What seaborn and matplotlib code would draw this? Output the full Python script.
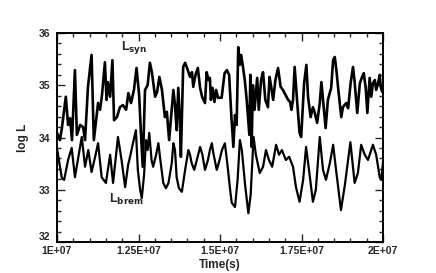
import matplotlib
matplotlib.use("Agg")
import matplotlib.pyplot as plt
from matplotlib.ticker import MultipleLocator, FixedLocator
import numpy as np
import pandas as pd
import seaborn as sns

# Time in units of 1e7 s
syn_t = [1.000, 1.009, 1.015, 1.027, 1.034, 1.040, 1.046, 1.055, 1.061, 1.071,
         1.080, 1.086, 1.095, 1.106, 1.113, 1.120, 1.126, 1.132, 1.138, 1.147,
         1.152, 1.156, 1.163, 1.170, 1.175, 1.184, 1.193, 1.202, 1.212, 1.219,
         1.227, 1.236, 1.244, 1.252, 1.257, 1.263, 1.270, 1.278, 1.285, 1.291,
         1.301, 1.307, 1.314, 1.322, 1.331, 1.337, 1.344, 1.352, 1.357, 1.362,
         1.367, 1.372, 1.377, 1.380, 1.387, 1.393, 1.399, 1.408, 1.414, 1.418,
         1.425, 1.432, 1.439, 1.445, 1.454, 1.459, 1.465, 1.469, 1.472, 1.477,
         1.483, 1.488, 1.494, 1.505, 1.514, 1.521, 1.528, 1.535, 1.541, 1.546,
         1.551, 1.556, 1.561, 1.565, 1.571, 1.576, 1.581, 1.586, 1.590, 1.593,
         1.597, 1.601, 1.606, 1.614, 1.619, 1.626, 1.632, 1.639, 1.647, 1.652,
         1.657, 1.663, 1.670, 1.678, 1.686, 1.693, 1.698, 1.709, 1.715, 1.719,
         1.724, 1.729, 1.737, 1.744, 1.749, 1.758, 1.765, 1.770, 1.778, 1.785,
         1.790, 1.798, 1.806, 1.811, 1.819, 1.824, 1.831, 1.841, 1.847, 1.852,
         1.857, 1.863, 1.872, 1.877, 1.887, 1.893, 1.901, 1.908, 1.913, 1.921,
         1.929, 1.936, 1.941, 1.947, 1.952, 1.959, 1.964, 1.969, 1.975, 1.979,
         1.985, 1.990, 1.993, 1.998]
syn_logL = [34.09, 33.95, 34.18, 34.78, 34.24, 34.37, 33.95, 35.29, 34.05, 34.24,
            34.20, 33.95, 34.97, 35.58, 33.95, 34.33, 34.66, 34.53, 34.81, 35.44,
            34.72, 35.06, 34.78, 35.48, 34.33, 34.39, 34.58, 34.62, 34.53, 34.85,
            34.66, 34.91, 35.33, 34.81, 34.14, 33.44, 34.91, 35.00, 35.43, 35.25,
            34.78, 34.87, 35.16, 34.91, 34.39, 34.49, 33.95, 34.53, 34.91, 34.62,
            34.14, 34.95, 34.33, 33.63, 35.35, 35.43, 35.33, 35.16, 35.25, 34.97,
            35.20, 35.33, 34.95, 34.78, 34.66, 35.25, 35.10, 35.14, 34.72, 34.95,
            34.68, 34.91, 34.76, 34.76, 35.23, 35.29, 35.20, 34.39, 33.82, 34.43,
            34.24, 35.73, 35.39, 35.58, 35.33, 35.10, 34.78, 34.39, 34.05, 35.20,
            33.82, 35.00, 34.53, 35.14, 34.53, 35.10, 35.25, 34.72, 34.58, 35.16,
            34.97, 34.72, 35.10, 35.33, 34.97, 34.91, 34.85, 34.72, 34.68, 34.53,
            34.72, 35.35, 34.66, 34.09, 34.01, 35.04, 35.39, 34.78, 34.39, 34.58,
            34.49, 34.28, 34.66, 35.06, 34.53, 34.18, 34.72, 34.95, 35.48, 35.54,
            35.29, 34.91, 34.39, 34.58, 34.66, 34.56, 35.06, 35.35, 35.06, 34.47,
            35.04, 35.16, 35.23, 34.95, 34.47, 35.14, 34.78, 35.04, 35.10, 34.91,
            35.04, 35.20, 34.97, 34.87]

brem_t = [1.001, 1.009, 1.015, 1.022, 1.028, 1.034, 1.045, 1.051, 1.055, 1.064,
          1.076, 1.086, 1.096, 1.106, 1.117, 1.126, 1.137, 1.150, 1.163, 1.172,
          1.187, 1.198, 1.209, 1.218, 1.224, 1.233, 1.242, 1.248, 1.255, 1.260,
          1.267, 1.273, 1.278, 1.283, 1.290, 1.295, 1.304, 1.311, 1.317, 1.326,
          1.334, 1.342, 1.352, 1.357, 1.362, 1.367, 1.374, 1.383, 1.393, 1.403,
          1.408, 1.413, 1.421, 1.429, 1.439, 1.446, 1.454, 1.463, 1.469, 1.475,
          1.479, 1.490, 1.497, 1.506, 1.515, 1.523, 1.531, 1.536, 1.546, 1.554,
          1.561, 1.567, 1.577, 1.587, 1.594, 1.603, 1.610, 1.622, 1.632, 1.641,
          1.650, 1.660, 1.672, 1.681, 1.690, 1.702, 1.712, 1.724, 1.733, 1.744,
          1.755, 1.764, 1.773, 1.785, 1.794, 1.806, 1.816, 1.825, 1.837, 1.847,
          1.856, 1.871, 1.883, 1.900, 1.913, 1.923, 1.933, 1.944, 1.954, 1.969,
          1.979, 1.990, 1.995, 2.000]
brem_logL = [33.76, 33.44, 33.22, 33.19, 33.38, 33.57, 33.80, 33.47, 33.24, 33.57,
             34.01, 33.44, 33.76, 33.34, 33.63, 33.89, 33.24, 33.13, 33.67, 33.13,
             34.01, 33.57, 33.05, 33.47, 33.63, 33.89, 34.14, 33.38, 33.00, 32.84,
             33.28, 33.95, 33.76, 34.09, 33.57, 33.44, 33.67, 33.89, 33.57, 33.13,
             33.03, 33.13, 33.51, 33.89, 33.76, 33.24, 33.03, 32.96, 33.38, 33.76,
             33.67, 33.51, 33.38, 33.57, 33.82, 33.67, 33.38, 33.57, 33.76, 33.89,
             33.72, 33.38, 33.53, 33.76, 33.89, 33.47, 33.00, 32.75, 32.67, 33.19,
             33.95, 33.76, 33.09, 32.55, 32.90, 34.01, 33.67, 33.32, 33.44, 33.76,
             33.57, 33.44, 33.86, 33.67, 33.76, 33.57, 33.63, 33.44, 33.05, 32.77,
             33.19, 33.82, 33.38, 32.77, 33.00, 34.01, 33.38, 33.19, 33.51, 33.86,
             33.38, 32.61, 33.09, 33.91, 33.13, 33.32, 33.86, 33.67, 33.57, 33.86,
             33.67, 33.24, 33.19, 33.53]

x_ticks = [1.0e7, 1.25e7, 1.5e7, 1.75e7, 2.0e7]
x_ticklabels = ["1E+07", "1.25E+07", "1.5E+07", "1.75E+07", "2E+07"]
y_ticks = [32, 33, 34, 35, 36]

syn_df = pd.DataFrame({"time": np.array(syn_t) * 1e7, "logL": syn_logL})
brem_df = pd.DataFrame({"time": np.array(brem_t) * 1e7, "logL": brem_logL})

sns.set_style("ticks")
plt.rcParams["font.family"] = ["Liberation Sans", "DejaVu Sans"]

fig = plt.figure(figsize=(4.36, 2.73), dpi=100)
ax = fig.add_axes([57 / 436, 1 - 242 / 273, 326 / 436, 209 / 273])

sns.lineplot(data=syn_df, x="time", y="logL", ax=ax, color="black",
             linewidth=1.9, sort=False, estimator=None)
sns.lineplot(data=brem_df, x="time", y="logL", ax=ax, color="black",
             linewidth=1.6, sort=False, estimator=None)
for ln in ax.lines:
    ln.set_solid_joinstyle("round")

ax.set_xlim(1.0e7, 2.0e7)
ax.set_ylim(32, 36)
ax.xaxis.set_major_locator(FixedLocator(x_ticks))
ax.set_xticklabels(x_ticklabels)
ax.xaxis.set_minor_locator(MultipleLocator(0.05e7))
ax.yaxis.set_major_locator(FixedLocator(y_ticks))
ax.yaxis.set_minor_locator(MultipleLocator(0.2))

ax.tick_params(which="both", direction="in", top=True, right=True,
               labelsize=7.5, width=1.0)
ax.tick_params(axis="x", pad=3)
ax.tick_params(axis="y", pad=5)
ax.tick_params(which="major", length=6)
ax.tick_params(which="minor", length=3)
for lbl in ax.get_xticklabels() + ax.get_yticklabels():
    lbl.set_fontweight("bold")
ax.get_yticklabels()[0].set_verticalalignment("bottom")
for s in ax.spines.values():
    s.set_linewidth(1.4)
    s.set_color("black")

ax.set_xlabel("Time(s)", fontsize=8.5, fontweight="bold", labelpad=2)
ax.set_ylabel("log L", fontsize=8.5, fontweight="bold", labelpad=7)

ax.text(1.197e7, 35.73, r"L$_{\mathbf{syn}}$", fontsize=9, fontweight="bold",
        ha="left", va="center")
ax.text(1.16e7, 32.82, r"L$_{\mathbf{brem}}$", fontsize=9, fontweight="bold",
        ha="left", va="center")

fig.savefig("out.png", dpi=100)
